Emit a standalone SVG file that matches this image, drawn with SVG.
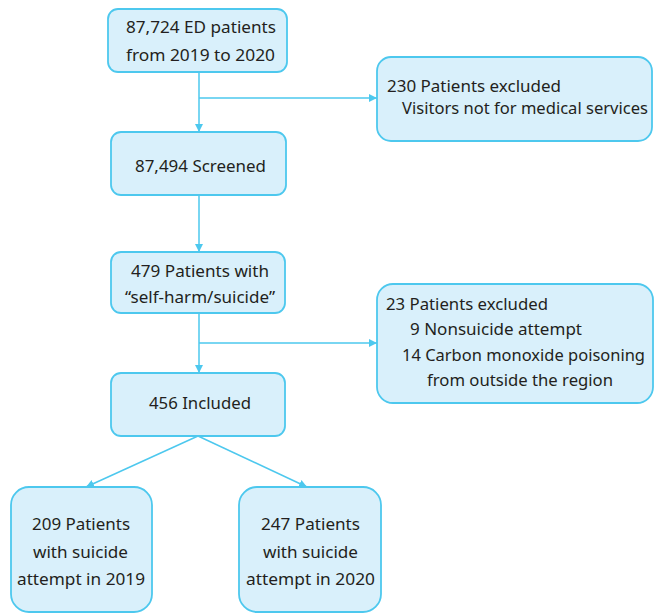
<svg xmlns="http://www.w3.org/2000/svg" width="654" height="614" viewBox="0 0 654 614">
<style>
.box{fill:#d9f0fb;stroke:#4dc8ee;stroke-width:1.8}
.t{font-family:"Noto Sans","Open Sans",sans-serif;font-size:17px;fill:#231f20}
.c{stroke:#4dc8ee;stroke-width:1.5;fill:none}
</style>
<defs>
<marker id="ah" viewBox="0 0 10 10" refX="10" refY="5" markerWidth="8" markerHeight="8" markerUnits="userSpaceOnUse" orient="auto">
<path d="M0,0 L10,5 L0,10 z" fill="#4dc8ee"/>
</marker>
</defs>
<g id="connectors">
<line class="c" x1="199" y1="72" x2="199" y2="132" marker-end="url(#ah)"/>
<line class="c" x1="199" y1="98" x2="377" y2="98" marker-end="url(#ah)"/>
<line class="c" x1="199" y1="195" x2="199" y2="252" marker-end="url(#ah)"/>
<line class="c" x1="199" y1="313" x2="199" y2="373" marker-end="url(#ah)"/>
<line class="c" x1="199" y1="343" x2="377" y2="343" marker-end="url(#ah)"/>
<line class="c" x1="198" y1="436" x2="86" y2="487" marker-end="url(#ah)"/>
<line class="c" x1="198" y1="436" x2="307" y2="487" marker-end="url(#ah)"/>
</g>
<g id="n1">
<rect class="box" x="108" y="9" width="179" height="63" rx="10"/>
<text class="t" x="126" y="33" textLength="150" lengthAdjust="spacingAndGlyphs">87,724 ED patients</text>
<text class="t" x="126" y="61" textLength="149" lengthAdjust="spacingAndGlyphs">from 2019 to 2020</text>
</g>
<g id="n2">
<rect class="box" x="111" y="132" width="175" height="63" rx="10"/>
<text class="t" x="135" y="172" textLength="131" lengthAdjust="spacingAndGlyphs">87,494 Screened</text>
</g>
<g id="ex1">
<rect class="box" x="377" y="57" width="275" height="84" rx="14"/>
<text class="t" x="387" y="92" textLength="174" lengthAdjust="spacingAndGlyphs">230 Patients excluded</text>
<text class="t" x="402" y="114" textLength="246" lengthAdjust="spacingAndGlyphs">Visitors not for medical services</text>
</g>
<g id="n3">
<rect class="box" x="111" y="252" width="174" height="61" rx="10"/>
<text class="t" x="131" y="277" textLength="138" lengthAdjust="spacingAndGlyphs">479 Patients with</text>
<text class="t" x="125" y="303" textLength="150" lengthAdjust="spacingAndGlyphs">“self-harm/suicide”</text>
</g>
<g id="ex2">
<rect class="box" x="377" y="284" width="276" height="119" rx="16"/>
<text class="t" x="386" y="310" textLength="162" lengthAdjust="spacingAndGlyphs">23 Patients excluded</text>
<text class="t" x="410" y="335" textLength="172" lengthAdjust="spacingAndGlyphs">9 Nonsuicide attempt</text>
<text class="t" x="402" y="361" textLength="243" lengthAdjust="spacingAndGlyphs">14 Carbon monoxide poisoning</text>
<text class="t" x="427" y="386" textLength="186" lengthAdjust="spacingAndGlyphs">from outside the region</text>
</g>
<g id="n4">
<rect class="box" x="111" y="373" width="174" height="63" rx="10"/>
<text class="t" x="149" y="409" textLength="102" lengthAdjust="spacingAndGlyphs">456 Included</text>
</g>
<g id="n5">
<rect class="box" x="11" y="487" width="141" height="125" rx="18"/>
<text class="t" x="32" y="530" textLength="98" lengthAdjust="spacingAndGlyphs">209 Patients</text>
<text class="t" x="33" y="558" textLength="95" lengthAdjust="spacingAndGlyphs">with suicide</text>
<text class="t" x="17" y="585" textLength="128" lengthAdjust="spacingAndGlyphs">attempt in 2019</text>
</g>
<g id="n6">
<rect class="box" x="239" y="487" width="142" height="125" rx="18"/>
<text class="t" x="261" y="530" textLength="99" lengthAdjust="spacingAndGlyphs">247 Patients</text>
<text class="t" x="263" y="558" textLength="95" lengthAdjust="spacingAndGlyphs">with suicide</text>
<text class="t" x="246" y="585" textLength="129" lengthAdjust="spacingAndGlyphs">attempt in 2020</text>
</g>
</svg>
